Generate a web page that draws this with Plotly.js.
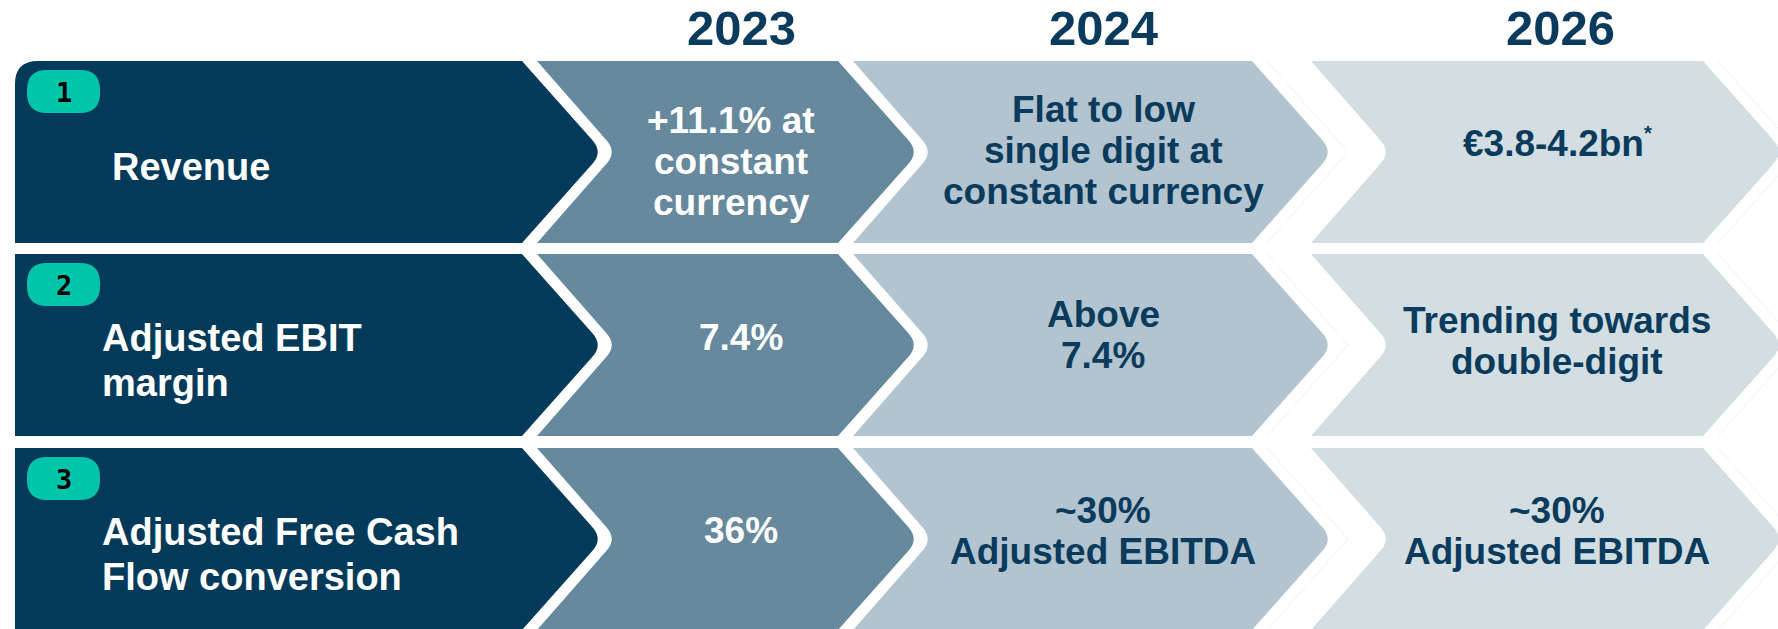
<!DOCTYPE html>
<html>
<head>
<meta charset="utf-8">
<script src="https://cdn.plot.ly/plotly-3.0.1.min.js"></script>
<style>
  html, body { margin: 0; padding: 0; background: #ffffff; }
  #chart { width: 1778px; height: 629px; }
</style>
</head>
<body>
<div id="chart"></div>
<script>
// ---- chart content ----
const years = ["2023", "2024", "2026"];
const badges = ["1", "2", "3"];
const metricLines = [
    ["Revenue"],
    ["Adjusted EBIT", "margin"],
    ["Adjusted Free Cash", "Flow conversion"],
];
const guidance2023 = [
    ["+11.1% at", "constant", "currency"],
    ["7.4%"],
    ["36%"],
];
const guidance2024 = [
    ["Flat to low", "single digit at", "constant currency"],
    ["Above", "7.4%"],
    ["~30%", "Adjusted EBITDA"],
];
const guidance2026 = [
    ["€3.8-4.2bn<sup><span style=\"font-size:20px\">*</span></sup>"],
    ["Trending towards", "double-digit"],
    ["~30%", "Adjusted EBITDA"],
];
const guidance = [guidance2023, guidance2024, guidance2026];

// ---- layout / geometry ----
const W = 1778, H = 629;
const rowTop = [61, 254, 448];
const rowH = 182;
const colL = [15, 537, 853, 1311];
const colR = [522, 838, 1252, 1703];
const depth = 81;
const colFill = ["#033a5a", "#67899e", "#b2c4cf", "#d2dee1"];
const textCol = ["#ffffff", "#0b3b5c", "#0b3b5c"];
const colTextX = [741, 1103, 1557];
const cellDy = [[9, -2, -9], [-8, -10, -4], [-9, -8, -8]];
const cellDx = [[-10, 0, 0], [0, 0, 0], [0, 0, 0]];
const FONT = "Liberation Sans, Arial, sans-serif";

function chevron(c, top) {
    const bot = top + rowH, mid = top + rowH / 2;
    const R = colR[c], T = R + depth;
    const r = 0.13;
    const ax = T - r * depth, ay = r * (rowH / 2);
    let p = "";
    if (c === 0) {
        const rad = top === rowTop[0] ? 23 : 0;
        p += `M ${colL[0]} ${top + rad} Q ${colL[0]} ${top} ${colL[0] + rad} ${top} `;
    } else {
        p += `M ${colL[c]} ${top} `;
    }
    p += `L ${R} ${top} L ${ax} ${mid - ay} Q ${T} ${mid} ${ax} ${mid + ay} L ${R} ${bot} `;
    p += `L ${colL[c]} ${bot} `;
    if (c > 0) {
        const N = colL[c] + depth - 1;
        const nx = N - r * depth;
        p += `L ${nx} ${mid + ay} Q ${N} ${mid} ${nx} ${mid - ay} `;
    }
    return p + "Z";
}

function pill(x0, x1, y0, y1, r) {
    return `M ${x0 + r} ${y0} L ${x1 - r} ${y0} Q ${x1} ${y0} ${x1} ${y0 + r} L ${x1} ${y1 - r} Q ${x1} ${y1} ${x1 - r} ${y1} ` +
           `L ${x0 + r} ${y1} Q ${x0} ${y1} ${x0} ${y1 - r} L ${x0} ${y0 + r} Q ${x0} ${y0} ${x0 + r} ${y0} Z`;
}

const shapes = [];
const annotations = [];

rowTop.forEach((top, i) => {
    for (let c = 0; c < 4; c++) {
        shapes.push({
            type: "path", xref: "x", yref: "y", path: chevron(c, top),
            fillcolor: colFill[c], line: { width: 0 }, layer: "below",
        });
    }
    // faint outline beyond the last two arrows
    [2, 3].forEach((c) => {
        const R = colR[c] + 15, T = colR[c] + depth + 15;
        shapes.push({
            type: "path", xref: "x", yref: "y",
            path: `M ${R} ${top} L ${T} ${top + rowH / 2} L ${R} ${top + rowH}`,
            line: { color: "rgba(205,225,228,0.4)", width: 1 }, layer: "below",
        });
    });
    // number badge
    shapes.push({
        type: "path", xref: "x", yref: "y", path: pill(27, 100, top + 9, top + 52, 20),
        fillcolor: "#00c5aa", line: { width: 0 }, layer: "below",
    });
    annotations.push({
        x: 63.5, y: top + 31, xref: "x", yref: "y", text: badges[i], showarrow: false,
        xanchor: "center", yanchor: "middle",
        font: { family: "DejaVu Sans Mono, monospace", size: 27, color: "#000000", weight: "bold" },
    });
    // metric label
    const lines = metricLines[i];
    const cy = top + 106;
    lines.forEach((ln, k) => {
        annotations.push({
            x: i === 0 ? 110 : 100, y: cy + (k - (lines.length - 1) / 2) * 45,
            xref: "x", yref: "y", text: ln, showarrow: false,
            xanchor: "left", yanchor: "middle",
            font: { family: FONT, size: 38, color: "#ffffff", weight: "bold" },
        });
    });
    // guidance cells
    guidance.forEach((col, j) => {
        const cl = col[i];
        const my = top + rowH / 2 + cellDy[i][j];
        cl.forEach((ln, k) => {
            annotations.push({
                x: colTextX[j] + cellDx[i][j], y: my + (k - (cl.length - 1) / 2) * 41,
                xref: "x", yref: "y", text: ln, showarrow: false,
                xanchor: "center", yanchor: "middle",
                font: { family: FONT, size: 37, color: textCol[j], weight: "bold" },
            });
        });
    });
});

// year headings
years.forEach((y, j) => {
    annotations.push({
        x: [741, 1103, 1560][j], y: 28, xref: "x", yref: "y", text: y, showarrow: false,
        xanchor: "center", yanchor: "middle",
        font: { family: FONT, size: 49, color: "#0b3b5c", weight: "bold" },
    });
});

const layout = {
    width: W, height: H,
    margin: { l: 0, r: 0, t: 0, b: 0 },
    paper_bgcolor: "#ffffff", plot_bgcolor: "#ffffff",
    xaxis: { range: [0, W], visible: false, fixedrange: true },
    yaxis: { range: [H, 0], visible: false, fixedrange: true },
    showlegend: false,
    shapes: shapes,
    annotations: annotations,
};

Plotly.newPlot("chart", [{ x: [], y: [], type: "scatter" }], layout, { staticPlot: true, displayModeBar: false });
</script>
</body>
</html>
